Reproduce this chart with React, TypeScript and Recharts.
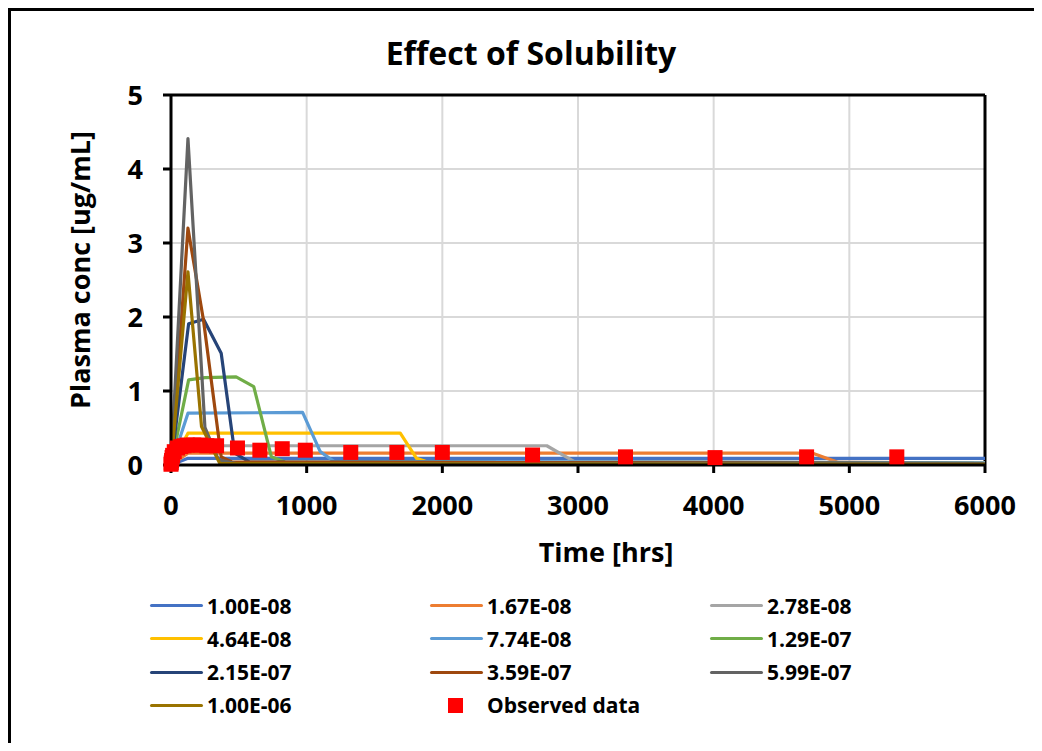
import {
  CartesianGrid,
  ComposedChart,
  Line,
  ReferenceLine,
  Scatter,
  XAxis,
  YAxis,
} from 'recharts'

const FONT = '"Open Sans", "Noto Sans", sans-serif'

// simulated profiles, [time hrs, conc ug/mL] at the visible break points
const S_100E08: [number, number][] = [[0, 0], [125, 0.09], [6000, 0.09]]
const S_167E08: [number, number][] = [[0, 0], [125, 0.16], [4730, 0.16], [4920, 0.035], [6000, 0.03]]
const S_278E08: [number, number][] = [[0, 0], [125, 0.26], [2770, 0.26], [2970, 0.05], [6000, 0.03]]
const S_464E08: [number, number][] = [[0, 0], [125, 0.43], [1690, 0.43], [1810, 0.09], [1890, 0.04], [6000, 0.03]]
const S_774E08: [number, number][] = [[0, 0], [125, 0.7], [970, 0.71], [1100, 0.18], [1200, 0.05], [6000, 0.03]]
const S_129E07: [number, number][] = [[0, 0], [130, 1.15], [250, 1.18], [480, 1.19], [610, 1.06], [740, 0.11], [840, 0.04], [6000, 0.02]]
const S_215E07: [number, number][] = [[0, 0], [130, 1.91], [240, 1.97], [370, 1.51], [470, 0.16], [580, 0.04], [6000, 0.02]]
const S_359E07: [number, number][] = [[0, 0], [125, 3.2], [240, 1.95], [370, 0.11], [450, 0.04], [6000, 0.02]]
const S_599E07: [number, number][] = [[0, 0], [125, 4.41], [250, 0.51], [350, 0.07], [480, 0.02], [6000, 0.02]]
const S_100E06: [number, number][] = [[0, 0], [125, 2.61], [225, 0.52], [360, 0.02], [6000, 0.01]]

const OBS_TIME = [0, 2, 4, 8, 12, 24, 48, 72, 96, 120, 168, 216, 264, 336, 490, 655, 820, 990, 1325, 1665, 2000, 2665, 3350, 4010, 4685, 5350]
const OBS_CONC = [0.01, 0.03, 0.06, 0.1, 0.13, 0.18, 0.23, 0.25, 0.26, 0.27, 0.27, 0.27, 0.26, 0.26, 0.23, 0.2, 0.22, 0.2, 0.17, 0.17, 0.17, 0.135, 0.11, 0.1, 0.11, 0.11]

const X_TICKS = [0, 1000, 2000, 3000, 4000, 5000, 6000]
const Y_TICKS = [0, 1, 2, 3, 4, 5]

const SERIES = [
  { label: '1.00E-08', color: '#4472c4', points: S_100E08 },
  { label: '1.67E-08', color: '#ed7d31', points: S_167E08 },
  { label: '2.78E-08', color: '#a5a5a5', points: S_278E08 },
  { label: '4.64E-08', color: '#ffc000', points: S_464E08 },
  { label: '7.74E-08', color: '#5b9bd5', points: S_774E08 },
  { label: '1.29E-07', color: '#70ad47', points: S_129E07 },
  { label: '2.15E-07', color: '#264478', points: S_215E07 },
  { label: '3.59E-07', color: '#9e480e', points: S_359E07 },
  { label: '5.99E-07', color: '#636363', points: S_599E07 },
  { label: '1.00E-06', color: '#997300', points: S_100E06 },
]

const OBS_ROWS = OBS_TIME.map((t, i) => ({ t, c: OBS_CONC[i] }))

const tickStyle = { fill: '#000', fontSize: 27, fontWeight: 700, fontFamily: FONT }

function ObservedSquare(props: any) {
  const { cx, cy } = props
  return <rect x={cx - 7.5} y={cy - 7.5} width={15} height={15} fill="#ff0000" />
}

function LegendGrid() {
  const items = [
    ...SERIES.map((s) => ({ label: s.label, color: s.color, square: false })),
    { label: 'Observed data', color: '#ff0000', square: true },
  ]
  return (
    <>
      {items.map((item, i) => {
        const col = i % 3
        const row = Math.floor(i / 3)
        return (
          <div
            key={item.label}
            style={{
              position: 'absolute',
              left: 139 + col * 280,
              top: 578 + row * 33.3,
              height: 33,
              display: 'flex',
              alignItems: 'center',
              fontFamily: FONT,
              fontWeight: 700,
              fontSize: 21,
              color: '#000',
              whiteSpace: 'nowrap',
            }}
          >
            <span style={{ width: 53, display: 'flex', justifyContent: 'center' }}>
              {item.square ? (
                <span style={{ width: 15, height: 15, marginLeft: -2, background: item.color }} />
              ) : (
                <span style={{ width: 53, height: 3, borderRadius: 2, background: item.color }} />
              )}
            </span>
            <span style={{ marginLeft: 4 }}>{item.label}</span>
          </div>
        )
      })}
    </>
  )
}

export default function App() {
  return (
    <div
      style={{
        margin: -8,
        padding: '8px 0 0 8px',
        width: 1042,
        height: 751,
        boxSizing: 'border-box',
        background: 'linear-gradient(180deg, #dbe5f3 0%, #ffffff 100%)',
        overflow: 'hidden',
      }}
    >
      <div
        style={{
          position: 'relative',
          width: 1031,
          height: 740,
          background: '#fff',
          borderLeft: '3px solid #000',
          borderTop: '3px solid #000',
        }}
      >
        <div
          style={{
            position: 'absolute',
            left: 0,
            top: 26,
            width: 1040,
            textAlign: 'center',
            fontFamily: FONT,
            fontWeight: 700,
            fontSize: 32,
            lineHeight: '32px',
            color: '#000',
          }}
        >
          Effect of Solubility
        </div>

        <ComposedChart width={1031} height={740} margin={{ top: 84, right: 57, bottom: 186, left: 0 }}>
          <CartesianGrid stroke="#d9d9d9" strokeWidth={2} />
          <XAxis
            type="number"
            dataKey="t"
            domain={[0, 6000]}
            ticks={X_TICKS}
            height={100}
            tick={tickStyle}
            tickSize={8}
            tickMargin={23}
            axisLine={{ stroke: '#000', strokeWidth: 3 }}
            tickLine={{ stroke: '#000', strokeWidth: 3 }}
            label={{
              value: 'Time [hrs]',
              position: 'insideBottom',
              offset: 3,
              dx: 28,
              fill: '#000',
              fontSize: 27,
              fontWeight: 700,
              fontFamily: FONT,
            }}
          />
          <YAxis
            type="number"
            domain={[0, 5]}
            ticks={Y_TICKS}
            width={160}
            tick={tickStyle}
            tickSize={8}
            tickMargin={20}
            axisLine={{ stroke: '#000', strokeWidth: 3 }}
            tickLine={{ stroke: '#000', strokeWidth: 3 }}
            label={{
              value: 'Plasma conc [ug/mL]',
              position: 'center',
              angle: -90,
              dx: -11,
              dy: -10,
              fill: '#000',
              fontSize: 27,
              fontWeight: 700,
              fontFamily: FONT,
            }}
          />
          <ReferenceLine y={5} stroke="#000" strokeWidth={3} />
          <ReferenceLine x={6000} stroke="#000" strokeWidth={3} />
          {SERIES.map((s) => (
            <Line
              key={s.label}
              data={s.points.map(([t, c]) => ({ t, c }))}
              dataKey="c"
              name={s.label}
              stroke={s.color}
              strokeWidth={3.2}
              strokeLinejoin="round"
              dot={false}
              activeDot={false}
              isAnimationActive={false}
            />
          ))}
          <Scatter
            data={OBS_ROWS}
            dataKey="c"
            name="Observed data"
            fill="#ff0000"
            shape={ObservedSquare}
            isAnimationActive={false}
          />
        </ComposedChart>

        <LegendGrid />
      </div>
    </div>
  )
}
